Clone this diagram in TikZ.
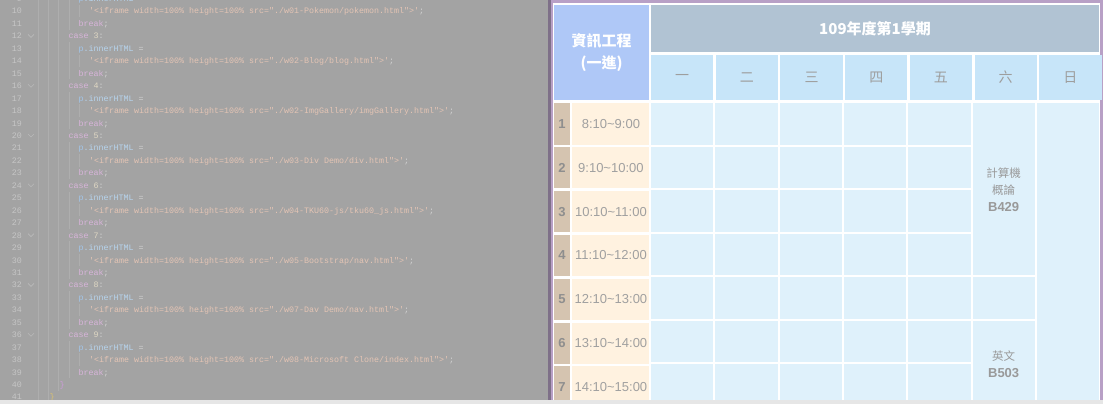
\documentclass[tikz,border=0pt]{standalone}
\usepackage{fontspec}
\setmainfont{Liberation Sans}
\setmonofont{Liberation Mono}
\newfontfamily\cjk{Noto Sans CJK TC}
\usetikzlibrary{positioning}
\definecolor{editorbg}{HTML}{A3A3A3}
\definecolor{lnumgray}{HTML}{C6C6C6}
\definecolor{guidegray}{HTML}{AEAEAE}
\definecolor{foldgray}{HTML}{BABABA}
\definecolor{kwpink}{HTML}{D8B4DA}
\definecolor{varblue}{HTML}{A2C6EA}
\definecolor{propblue}{HTML}{B6D4EE}
\definecolor{strpeach}{HTML}{E4C4B4}
\definecolor{punctgray}{HTML}{D2D2D2}
\definecolor{numlight}{HTML}{E0D8C4}
\definecolor{braceviolet}{HTML}{CB9CD8}
\definecolor{braceyellow}{HTML}{D6BF74}
\definecolor{splitdark}{HTML}{7E7088}
\definecolor{framepurple}{HTML}{B8A0C6}
\definecolor{statusgray}{HTML}{E6E6E6}
\definecolor{cornerblue}{HTML}{AFC8F7}
\definecolor{titlegray}{HTML}{B1C3D3}
\definecolor{dayblue}{HTML}{C7E5F9}
\definecolor{bodyblue}{HTML}{DFF1FB}
\definecolor{numtan}{HTML}{D5C4B0}
\definecolor{timecream}{HTML}{FFF2E0}
\definecolor{daytext}{HTML}{9E9E9E}
\definecolor{timetext}{HTML}{A0A0A0}
\definecolor{numtext}{HTML}{8E8E8E}
\definecolor{coursegray}{HTML}{999999}

\begin{document}
\begin{tikzpicture}[x=1pt, y=-1pt, node distance=2pt,
  codetxt/.style={anchor=base west, inner sep=0pt, font=\ttfamily\fontsize{8.33}{10}\selectfont},
  strline/.style={codetxt, text=strpeach},
  linenum/.style={anchor=base east, inner sep=0pt, text=lnumgray, font=\ttfamily\fontsize{8.33}{10}\selectfont},
  foldmark/.style={draw=foldgray, line width=0.6pt},
  guideline/.style={draw=guidegray, line width=0.6pt},
  gridline/.style={draw=white, line width=2pt},
  cornercell/.style={fill=cornerblue, minimum width=95pt, minimum height=95pt, inner sep=0pt, text=white, align=center, font=\cjk\bfseries\fontsize{15}{22}\selectfont},
  titlecell/.style={fill=titlegray, minimum width=448pt, minimum height=47pt, inner sep=0pt, text=white, font=\cjk\bfseries\fontsize{15}{18}\selectfont},
  daycell/.style={fill=dayblue, minimum width=62.3pt, minimum height=45pt, inner sep=0pt, text=daytext, font=\cjk\fontsize{14}{16}\selectfont},
  numcell/.style={fill=numtan, minimum width=16pt, minimum height=41.5pt, inner sep=0pt, text=numtext, font=\bfseries\fontsize{13}{15}\selectfont},
  timecell/.style={fill=timecream, minimum width=77pt, minimum height=41.5pt, inner sep=0pt, text=timetext, font=\fontsize{13}{15}\selectfont},
  coursetxt/.style={inner sep=0pt, text=coursegray, align=center, font=\fontsize{11.5}{16.8}\selectfont}]
\useasboundingbox (0,0) rectangle (1103,404);
\clip (0,0) rectangle (1103,404);
\fill[editorbg] (0,0) rectangle (548,404);
\fill[splitdark] (548,0) rectangle (550.5,404);
\fill[framepurple] (550.5,0) rectangle (1103,404);
\fill[white] (552.5,3) rectangle (1100,404);
\draw[guideline] (38,0) -- (38,400) (48,0) -- (48,400) (58,0) -- (58,390.7);
\draw[guideline] (69,-8) -- (69,29.7) (69,42.1) -- (69,79.5) (69,91.9) -- (69,129.3) (69,141.7) -- (69,179.1)
  (69,191.5) -- (69,228.9) (69,241.3) -- (69,278.7) (69,291.1) -- (69,328.5) (69,340.9) -- (69,378.3);
\draw[guideline] (79,4.8) -- (79,17.2) (79,54.6) -- (79,67) (79,104.4) -- (79,116.8) (79,154.2) -- (79,166.6)
  (79,204) -- (79,216.4) (79,253.8) -- (79,266.2) (79,303.6) -- (79,316) (79,353.4) -- (79,365.8);
\draw[foldmark] (28,34.4) -- (31,37.4) -- (34,34.4);
\draw[foldmark] (28,84.2) -- (31,87.2) -- (34,84.2);
\draw[foldmark] (28,134) -- (31,137) -- (34,134);
\draw[foldmark] (28,183.8) -- (31,186.8) -- (34,183.8);
\draw[foldmark] (28,233.6) -- (31,236.6) -- (34,233.6);
\draw[foldmark] (28,283.4) -- (31,286.4) -- (34,283.4);
\draw[foldmark] (28,333.2) -- (31,336.2) -- (34,333.2);
\node (ln9) [linenum] at (22,1.5) {9};
\node (ln10) [linenum] at (22,14) {10};
\node (ln11) [linenum] at (22,26.45) {11};
\node (ln12) [linenum] at (22,38.9) {12};
\node (ln13) [linenum] at (22,51.35) {13};
\node (ln14) [linenum] at (22,63.8) {14};
\node (ln15) [linenum] at (22,76.25) {15};
\node (ln16) [linenum] at (22,88.7) {16};
\node (ln17) [linenum] at (22,101.15) {17};
\node (ln18) [linenum] at (22,113.6) {18};
\node (ln19) [linenum] at (22,126.05) {19};
\node (ln20) [linenum] at (22,138.5) {20};
\node (ln21) [linenum] at (22,150.95) {21};
\node (ln22) [linenum] at (22,163.4) {22};
\node (ln23) [linenum] at (22,175.85) {23};
\node (ln24) [linenum] at (22,188.3) {24};
\node (ln25) [linenum] at (22,200.75) {25};
\node (ln26) [linenum] at (22,213.2) {26};
\node (ln27) [linenum] at (22,225.65) {27};
\node (ln28) [linenum] at (22,238.1) {28};
\node (ln29) [linenum] at (22,250.55) {29};
\node (ln30) [linenum] at (22,263) {30};
\node (ln31) [linenum] at (22,275.45) {31};
\node (ln32) [linenum] at (22,287.9) {32};
\node (ln33) [linenum] at (22,300.35) {33};
\node (ln34) [linenum] at (22,312.8) {34};
\node (ln35) [linenum] at (22,325.25) {35};
\node (ln36) [linenum] at (22,337.7) {36};
\node (ln37) [linenum] at (22,350.15) {37};
\node (ln38) [linenum] at (22,362.6) {38};
\node (ln39) [linenum] at (22,375.05) {39};
\node (ln40) [linenum] at (22,387.5) {40};
\node (ln41) [linenum] at (22,399.95) {41};
\node (cl9) [codetxt] at (78.5,1.5) {\textcolor{varblue}{p}\textcolor{propblue}{.innerHTML} \textcolor{punctgray}{=}};
\node (cl10) [strline] at (89,14) {'<iframe width=100\% height=100\% src="./w01-Pokemon/pokemon.html">'\textcolor{punctgray}{;}};
\node (cl11) [codetxt] at (78.5,26.45) {\textcolor{kwpink}{break}\textcolor{punctgray}{;}};
\node (cl12) [codetxt] at (68.5,38.9) {\textcolor{kwpink}{case} \textcolor{numlight}{3}\textcolor{punctgray}{:}};
\node (cl13) [codetxt] at (78.5,51.35) {\textcolor{varblue}{p}\textcolor{propblue}{.innerHTML} \textcolor{punctgray}{=}};
\node (cl14) [strline] at (89,63.8) {'<iframe width=100\% height=100\% src="./w02-Blog/blog.html">'\textcolor{punctgray}{;}};
\node (cl15) [codetxt] at (78.5,76.25) {\textcolor{kwpink}{break}\textcolor{punctgray}{;}};
\node (cl16) [codetxt] at (68.5,88.7) {\textcolor{kwpink}{case} \textcolor{numlight}{4}\textcolor{punctgray}{:}};
\node (cl17) [codetxt] at (78.5,101.15) {\textcolor{varblue}{p}\textcolor{propblue}{.innerHTML} \textcolor{punctgray}{=}};
\node (cl18) [strline] at (89,113.6) {'<iframe width=100\% height=100\% src="./w02-ImgGallery/imgGallery.html">'\textcolor{punctgray}{;}};
\node (cl19) [codetxt] at (78.5,126.05) {\textcolor{kwpink}{break}\textcolor{punctgray}{;}};
\node (cl20) [codetxt] at (68.5,138.5) {\textcolor{kwpink}{case} \textcolor{numlight}{5}\textcolor{punctgray}{:}};
\node (cl21) [codetxt] at (78.5,150.95) {\textcolor{varblue}{p}\textcolor{propblue}{.innerHTML} \textcolor{punctgray}{=}};
\node (cl22) [strline] at (89,163.4) {'<iframe width=100\% height=100\% src="./w03-Div Demo/div.html">'\textcolor{punctgray}{;}};
\node (cl23) [codetxt] at (78.5,175.85) {\textcolor{kwpink}{break}\textcolor{punctgray}{;}};
\node (cl24) [codetxt] at (68.5,188.3) {\textcolor{kwpink}{case} \textcolor{numlight}{6}\textcolor{punctgray}{:}};
\node (cl25) [codetxt] at (78.5,200.75) {\textcolor{varblue}{p}\textcolor{propblue}{.innerHTML} \textcolor{punctgray}{=}};
\node (cl26) [strline] at (89,213.2) {'<iframe width=100\% height=100\% src="./w04-TKU60-js/tku60\_js.html">'\textcolor{punctgray}{;}};
\node (cl27) [codetxt] at (78.5,225.65) {\textcolor{kwpink}{break}\textcolor{punctgray}{;}};
\node (cl28) [codetxt] at (68.5,238.1) {\textcolor{kwpink}{case} \textcolor{numlight}{7}\textcolor{punctgray}{:}};
\node (cl29) [codetxt] at (78.5,250.55) {\textcolor{varblue}{p}\textcolor{propblue}{.innerHTML} \textcolor{punctgray}{=}};
\node (cl30) [strline] at (89,263) {'<iframe width=100\% height=100\% src="./w05-Bootstrap/nav.html">'\textcolor{punctgray}{;}};
\node (cl31) [codetxt] at (78.5,275.45) {\textcolor{kwpink}{break}\textcolor{punctgray}{;}};
\node (cl32) [codetxt] at (68.5,287.9) {\textcolor{kwpink}{case} \textcolor{numlight}{8}\textcolor{punctgray}{:}};
\node (cl33) [codetxt] at (78.5,300.35) {\textcolor{varblue}{p}\textcolor{propblue}{.innerHTML} \textcolor{punctgray}{=}};
\node (cl34) [strline] at (89,312.8) {'<iframe width=100\% height=100\% src="./w07-Dav Demo/nav.html">'\textcolor{punctgray}{;}};
\node (cl35) [codetxt] at (78.5,325.25) {\textcolor{kwpink}{break}\textcolor{punctgray}{;}};
\node (cl36) [codetxt] at (68.5,337.7) {\textcolor{kwpink}{case} \textcolor{numlight}{9}\textcolor{punctgray}{:}};
\node (cl37) [codetxt] at (78.5,350.15) {\textcolor{varblue}{p}\textcolor{propblue}{.innerHTML} \textcolor{punctgray}{=}};
\node (cl38) [strline] at (89,362.6) {'<iframe width=100\% height=100\% src="./w08-Microsoft Clone/index.html">'\textcolor{punctgray}{;}};
\node (cl39) [codetxt] at (78.5,375.05) {\textcolor{kwpink}{break}\textcolor{punctgray}{;}};
\node (cl40) [codetxt, text=braceviolet] at (59.5,387.5) {\}};
\node (cl41) [codetxt, text=braceyellow] at (49.5,399.95) {\}};
\node (corner) [cornercell] at (601.5,52.5) {資訊工程\\(一進)};
\node (term) [titlecell] at (875,28.5) {109年度第1學期};
\node (d1) [daycell] at (682.15,77.5) {一};
\node (d2) [daycell, right=of d1] {二};
\node (d3) [daycell, right=of d2] {三};
\node (d4) [daycell, right=of d3] {四};
\node (d5) [daycell, right=of d4] {五};
\node (d6) [daycell, right=of d5] {六};
\node (d7) [daycell, right=of d6] {日};
\fill[bodyblue] (651,103) rectangle (1099.1,404);
\draw[gridline] (714.3,103) -- (714.3,404) (778.6,103) -- (778.6,404) (842.9,103) -- (842.9,404)
  (907.2,103) -- (907.2,404) (971.5,103) -- (971.5,404) (1035.8,103) -- (1035.8,404);
\draw[gridline] (651,145.5) -- (970.5,145.5) (651,189) -- (970.5,189) (651,232.5) -- (970.5,232.5)
  (651,276) -- (1034.8,276) (651,319.5) -- (1034.8,319.5) (651,363) -- (970.5,363);
\node (n1) [numcell] at (562,123.75) {1};
\node (t1) [timecell, right=of n1] {8:10\textasciitilde 9:00};
\node (n2) [numcell, below=of n1] {2};
\node (t2) [timecell, right=of n2] {9:10\textasciitilde 10:00};
\node (n3) [numcell, below=of n2] {3};
\node (t3) [timecell, right=of n3] {10:10\textasciitilde 11:00};
\node (n4) [numcell, below=of n3] {4};
\node (t4) [timecell, right=of n4] {11:10\textasciitilde 12:00};
\node (n5) [numcell, below=of n4] {5};
\node (t5) [timecell, right=of n5] {12:10\textasciitilde 13:00};
\node (n6) [numcell, below=of n5] {6};
\node (t6) [timecell, right=of n6] {13:10\textasciitilde 14:00};
\node (n7) [numcell, below=of n6] {7};
\node (t7) [timecell, right=of n7] {14:10\textasciitilde 15:00};
\node (comp) [coursetxt] at (1003.65,189.5) {{\cjk 計算機}\\{\cjk 概論}\\\textbf{\fontsize{13}{16.8}\selectfont B429}};
\node (eng) [coursetxt] at (1003.65,364.5) {{\cjk 英文}\\\textbf{\fontsize{13}{16.8}\selectfont B503}};
\fill[statusgray] (0,400) rectangle (1103,404);
\end{tikzpicture}
\end{document}
